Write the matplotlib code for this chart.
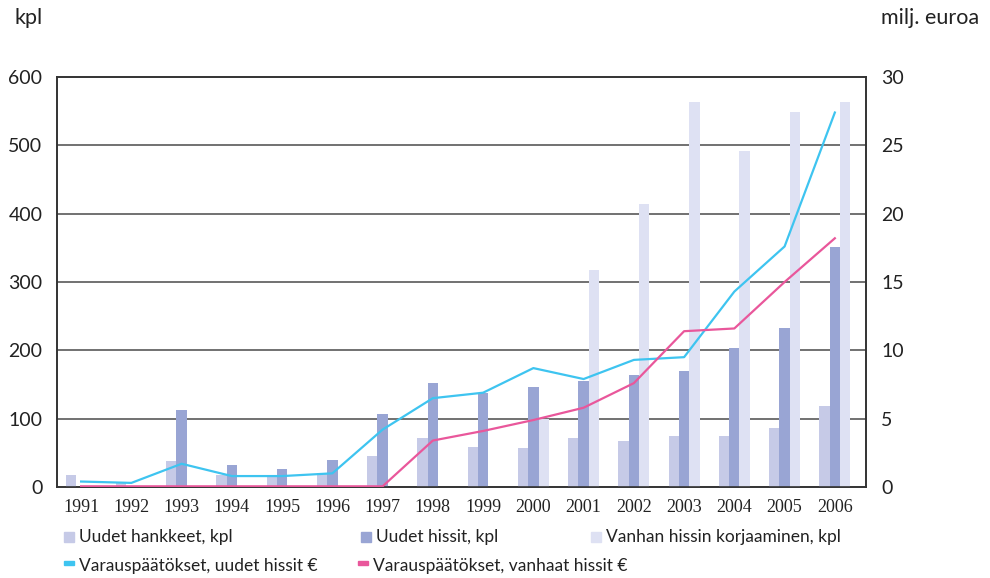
import matplotlib
matplotlib.use("Agg")
import matplotlib.pyplot as plt
from matplotlib.patches import Rectangle
import numpy as np

years = ['1991', '1992', '1993', '1994', '1995', '1996', '1997', '1998',
         '1999', '2000', '2001', '2002', '2003', '2004', '2005', '2006']
uudet_hankkeet = [18, 8, 38, 18, 17, 20, 45, 72, 58, 57, 72, 67, 75, 75, 86, 118]
uudet_hissit = [0, 0, 113, 32, 26, 39, 107, 152, 137, 146, 155, 164, 170, 203, 233, 351]
korjaaminen = [0, 0, 0, 0, 0, 0, 0, 0, 0, 100, 318, 414, 563, 492, 549, 563]
varaus_uudet = [0.4, 0.3, 1.7, 0.8, 0.8, 1.0, 4.2, 6.5, 6.9, 8.7, 7.9, 9.3, 9.5, 14.3, 17.6, 27.4]
varaus_vanhat = [0.05, 0.05, 0.05, 0.05, 0.05, 0.05, 0.05, 3.4, 4.1, 4.9, 5.8, 7.6, 11.4, 11.6, 15.0, 18.2]

left_ticks = [0, 100, 200, 300, 400, 500, 600]
right_ticks = [0, 5, 10, 15, 20, 25, 30]

labels = ['Uudet hankkeet, kpl', 'Uudet hissit, kpl', 'Vanhan hissin korjaaminen, kpl',
          'Varauspäätökset, uudet hissit €', 'Varauspäätökset, vanhaat hissit €']

c_light = '#c6cae7'
c_dark = '#99a5d4'
c_vlight = '#dee1f3'
c_blue = '#3ec4f0'
c_pink = '#e9579b'
sans = ['Lato', 'DejaVu Sans']
serif = ['Liberation Serif', 'DejaVu Serif']
txt = '#222222'

fig = plt.figure(figsize=(9.9, 5.78), dpi=100)
ax = fig.add_axes([57 / 990, 91 / 578, (866 - 57) / 990, (487 - 77) / 578])
ax2 = ax.twinx()

x = np.arange(len(years))
w = 0.205
ax.bar(x - w, uudet_hankkeet, w, color=c_light, zorder=3)
ax.bar(x, uudet_hissit, w, color=c_dark, zorder=3)
ax.bar(x + w, korjaaminen, w, color=c_vlight, zorder=3)

ax.set_xlim(-0.48, 15.62)
ax.set_ylim(0, 600)
ax.set_yticks(left_ticks)
ax.set_yticklabels([str(t) for t in left_ticks], fontfamily=sans, fontsize=14)
ax.set_xticks(x)
ax.set_xticklabels(years, fontfamily=serif, fontsize=13)
ax.tick_params(axis='y', length=0, pad=10.5, colors=txt)
ax.tick_params(axis='x', length=0, pad=9, colors=txt)
for t in left_ticks[1:-1]:
    ax.axhline(t, color='#4a4a4a', lw=1.1, zorder=1)

ax2.set_ylim(0, 30)
ax2.set_yticks(right_ticks)
ax2.set_yticklabels([str(t) for t in right_ticks], fontfamily=sans, fontsize=14)
ax2.tick_params(axis='y', length=0, pad=11, colors=txt)
ax2.plot(x, varaus_uudet, color=c_blue, lw=1.6, zorder=5)
ax2.plot(x, varaus_vanhat, color=c_pink, lw=1.6, zorder=5)

for a in (ax, ax2):
    for s in a.spines.values():
        s.set_color('#333333')
        s.set_linewidth(1.2)

fig.text(14 / 990, 1 - 18 / 578, 'kpl', fontfamily=sans, fontsize=15.5, va='center', ha='left', color=txt)
fig.text(881 / 990, 1 - 18 / 578, 'milj. euroa', fontfamily=sans, fontsize=15.5, va='center', ha='left', color=txt)

# legend (manual layout)
items = [
    (64, 537, 'sq', c_light, labels[0]),
    (361, 537, 'sq', c_dark, labels[1]),
    (591, 537, 'sq', c_vlight, labels[2]),
    (64, 566, 'ln', c_blue, labels[3]),
    (358, 566, 'ln', c_pink, labels[4]),
]
for px, py, kind, col, lab in items:
    if kind == 'sq':
        fig.add_artist(Rectangle((px / 990, 1 - (py + 5) / 578), 10 / 990, 10 / 578,
                                 transform=fig.transFigure, color=col))
    else:
        fig.add_artist(Rectangle((px / 990, 1 - (py - 1) / 578), 10 / 990, 4 / 578,
                                 transform=fig.transFigure, color=col))
    fig.text((px + 15) / 990, 1 - py / 578, lab, fontfamily=sans, fontsize=12.5,
             va='center', ha='left', color=txt)

fig.savefig('out.png', dpi=100)
